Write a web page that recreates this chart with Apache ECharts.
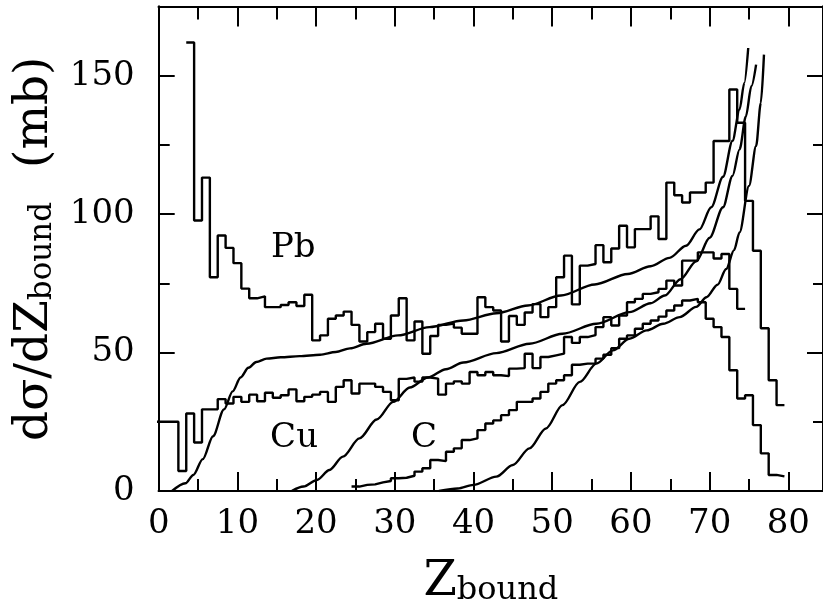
<!DOCTYPE html>
<html><head><meta charset="utf-8">
<script src="https://cdn.jsdelivr.net/npm/echarts@6/dist/echarts.min.js"></script>
<style>html,body{margin:0;padding:0;background:#fff}#c{width:823px;height:612px}</style>
</head><body><div id="c"></div>
<script>
// ---------- data ----------
// histograms: one value per integer Z_bound bin (bin width 1, centred on the integer)
const pbFirstBin = 4;
const pbHist = [162, 97.7, 113.2, 77.2, 92.3, 87.8, 82.3, 73.1, 69.6, 70.3,
  66.4, 66.4, 67.2, 68.2, 66.8, 70.9, 54.4, 56.2, 62.2, 63.4,
  64.8, 60, 54, 57.4, 60.4, 55, 63.4, 69.6, 54.4, 61.2,
  49.6, 56, 60, 60.5, 59, 56.8, 56.8, 70, 66.4, 65.2,
  54, 63.2, 60, 64.5, 67.5, 62.8, 66.4, 77.2, 85, 67.4,
  81.4, 82, 88.8, 82.6, 87.6, 95.8, 88, 94.6, 94.6, 99.2,
  91, 111.4, 106.8, 104.2, 107.8, 107.8, 111.4, 126.4, 126.4, 145,
  133, 104.8, 86.8, 58.8, 40, 31];
const cuFirstBin = 0;
const cuHist = [25, 25, 25, 7.2, 28, 17.5, 29.5, 29.5, 33.2, 31.6,
  34, 32.2, 34.8, 32.4, 35.5, 33.7, 34.6, 36.7, 32.4, 34,
  34.8, 35.8, 32.2, 37.6, 40, 35.2, 38.8, 38.8, 37.6, 35.8,
  32.8, 40.5, 41, 39.5, 41, 40.6, 34.8, 38.8, 39.6, 38.8,
  43, 41.8, 43, 41.8, 41.5, 44.2, 44.4, 49.6, 44.4, 48.4,
  49, 49.6, 55.6, 53.5, 55.6, 56.3, 59.2, 62.8, 59.8, 63.4,
  68.2, 69.4, 71.2, 71.8, 73, 76, 74.2, 83.2, 83.2, 86.2,
  86.2, 84, 85.6, 73, 65.8];
const cFirstBin = 25;
const cHist = [1.6, 2.2, 2.4, 3.1, 3.6, 4.6, 4.8, 5.5, 7, 8.2,
  11.2, 10.8, 14.2, 15.4, 18.4, 19, 22, 24.4, 25.5, 27.4,
  29.2, 32.2, 32.2, 33.4, 35.8, 38.8, 40, 41.8, 45.6, 46,
  46, 47.8, 49.2, 51.6, 55, 56.2, 58.6, 60.4, 61.6, 63,
  65.2, 67, 68.8, 69.4, 68.2, 62.2, 59.2, 55.6, 43.6, 33.4,
  34.6, 23.8, 13.6, 5.8, 5.3];

// model curves: [Z_bound, dσ/dZ]
const pbCurve = [[1.7,0],[3.4,2.8],[4.4,5.8],[5.6,11.5],[6.9,19.8],[8.3,29.5],[9.4,36],[10.4,41],
  [11.4,44.5],[12.4,46.6],[13.7,47.8],[15.5,48.3],[17.9,48.7],[20.5,49.2],[22.5,50.2],[24.3,51.5],
  [26.4,53.2],[30.4,56.2],[34.4,59.2],[38.7,61.6],[42.9,64.2],[46.9,67],[51.1,70.6],[55.4,74.6],
  [59.6,78.4],[62.5,81.2],[64.9,84.2],[67,88.6],[68.7,94.5],[70.2,102.5],[71.7,113.5],[72.9,126.5],
  [73.8,137.8],[74.4,147.4],[74.9,160]];
const cuCurve = [[16.9,0],[18.4,1.6],[20.1,4],[21.7,7.6],[23.4,12.4],[25.5,19],[27.7,25.8],[29.8,32.2],
  [31.9,37.4],[34.2,41],[36.5,44],[38.7,46.4],[42.9,49.8],[47.1,53.2],[51.3,56.8],[55.6,60.4],
  [59.8,64.6],[62.5,67.8],[64.3,70.6],[66.3,76.5],[68.3,83],[70,91.5],[71.7,102.5],[72.9,113.8],
  [73.8,123.4],[74.6,135.3],[75.3,146.2],[75.9,154]];
const cCurve = [[35.6,0],[38,0.9],[40,2.2],[42.9,5.2],[45,9.4],[47.1,15.4],[49.2,22.6],[51.3,31],
  [53.5,39.4],[55.6,46],[57.7,50.8],[59.8,55],[62,58],[64.1,60.4],[66.2,62.8],[68.3,66.5],
  [69.6,70],[71,74.5],[72.1,80.2],[73.1,87],[73.8,93.4],[75,110.2],[75.9,124.6],[76.5,140.2],[76.9,157.6]];

// in-plot labels
const labelNames = ['Pb', 'Cu', 'C'];
const labelX = [17.1, 17.2, 33.7];
const labelY = [87.6, 19, 19];

// axes
const xMin = 0, xMax = 84.4, xMajor = 10, xMinor = 5;
const yMin = 0, yMax = 175, yMajor = 50, yMinor = 25;
const xTickLabels = [0, 10, 20, 30, 40, 50, 60, 70, 80];
const yTickLabels = [0, 50, 100, 150];

// ---------- chart ----------
const FONT = 'DejaVu Serif';
const INK = '#000';
const LW = 2.4;

function histPoints(first, vals) {
  const pts = vals.map((v, i) => [first + i - 0.5, v]);
  pts.push([first + vals.length - 0.5, vals[vals.length - 1]]);
  return pts;
}

function xAxis(pos, interval, len, withLabels) {
  const ax = {
    type: 'value', position: pos, min: xMin, max: xMax, interval: interval,
    axisLine: { show: true, onZero: false, lineStyle: { color: INK, width: 2 } },
    axisTick: { show: true, inside: true, length: len, lineStyle: { color: INK, width: 2 } },
    axisLabel: { show: false },
    splitLine: { show: false }
  };
  if (withLabels) {
    ax.axisLabel = {
      show: true, margin: 16, color: INK, fontFamily: FONT, fontSize: 34,
      showMaxLabel: false,
      formatter: v => xTickLabels.indexOf(v) >= 0 ? String(v) : ''
    };
    ax.name = '{m|Z}{s|bound}';
    ax.nameLocation = 'middle';
    ax.nameGap = 60;
    ax.nameTextStyle = {
      color: INK, fontFamily: FONT,
      rich: {
        m: { fontFamily: FONT, fontSize: 48, lineHeight: 56, verticalAlign: 'bottom', color: INK },
        s: { fontFamily: FONT, fontSize: 32, lineHeight: 29, verticalAlign: 'bottom', color: INK }
      }
    };
  }
  return ax;
}

function yAxis(pos, interval, len, withLabels) {
  const ax = {
    type: 'value', position: pos, min: yMin, max: yMax, interval: interval,
    axisLine: { show: true, onZero: false, lineStyle: { color: INK, width: 2 } },
    axisTick: { show: true, inside: true, length: len, lineStyle: { color: INK, width: 2 } },
    axisLabel: { show: false },
    splitLine: { show: false }
  };
  if (withLabels) {
    ax.axisLabel = {
      show: true, margin: 24, color: INK, fontFamily: FONT, fontSize: 34,
      showMaxLabel: false,
      formatter: v => yTickLabels.indexOf(v) >= 0 ? String(v) : ''
    };
    ax.name = '{m|dσ/dZ}{s|bound}{g| }{m|(mb)}';
    ax.nameLocation = 'middle';
    ax.nameRotate = 90;
    ax.nameGap = 100;
    ax.nameTextStyle = {
      color: INK, fontFamily: FONT,
      rich: {
        m: { fontFamily: FONT, fontSize: 47, lineHeight: 56, verticalAlign: 'bottom', color: INK },
        s: { fontFamily: FONT, fontSize: 31, lineHeight: 29, verticalAlign: 'bottom', color: INK },
        g: { fontFamily: FONT, fontSize: 31, lineHeight: 29, width: 34, verticalAlign: 'bottom' }
      }
    };
  }
  return ax;
}

const lineBase = {
  type: 'line', xAxisIndex: 0, yAxisIndex: 0, symbol: 'none', showSymbol: false,
  silent: true, animation: false, clip: true,
  itemStyle: { color: INK },
  lineStyle: { color: INK, width: LW }
};

const option = {
  animation: false,
  backgroundColor: '#fff',
  grid: { left: 158.7, right: -1, top: 6.5, bottom: 119.3, containLabel: false },
  xAxis: [
    xAxis('bottom', xMajor, 19, true),
    xAxis('bottom', xMinor, 12, false),
    xAxis('top', xMajor, 20, false),
    xAxis('top', xMinor, 13, false)
  ],
  yAxis: [
    yAxis('left', yMajor, 16, true),
    yAxis('left', yMinor, 11, false),
    yAxis('right', yMajor, 16, false),
    yAxis('right', yMinor, 10, false)
  ],
  series: [
    Object.assign({}, lineBase, { name: 'Pb hist', step: 'end', data: histPoints(pbFirstBin, pbHist) }),
    Object.assign({}, lineBase, { name: 'Cu hist', step: 'end', data: histPoints(cuFirstBin, cuHist) }),
    Object.assign({}, lineBase, { name: 'C hist', step: 'end', data: histPoints(cFirstBin, cHist) }),
    Object.assign({}, lineBase, { name: 'Pb calc', smooth: 0.3, smoothMonotone: 'x', data: pbCurve }),
    Object.assign({}, lineBase, { name: 'Cu calc', smooth: 0.3, smoothMonotone: 'x', data: cuCurve }),
    Object.assign({}, lineBase, { name: 'C calc', smooth: 0.3, smoothMonotone: 'x', data: cCurve }),
    {
      type: 'scatter', xAxisIndex: 0, yAxisIndex: 0, symbolSize: 0, silent: true, animation: false,
      itemStyle: { color: INK, opacity: 1 },
      data: labelNames.map((n, i) => ({ name: n, value: [labelX[i], labelY[i]] })),
      label: { show: true, position: 'inside', formatter: '{b}', color: INK, opacity: 1, fontFamily: FONT,
               fontSize: 34, textBorderWidth: 0, textBorderColor: 'transparent' }
    }
  ]
};

const chart = echarts.init(document.getElementById('c'), null, { renderer: 'canvas' });
chart.setOption(option);
</script></body></html>
